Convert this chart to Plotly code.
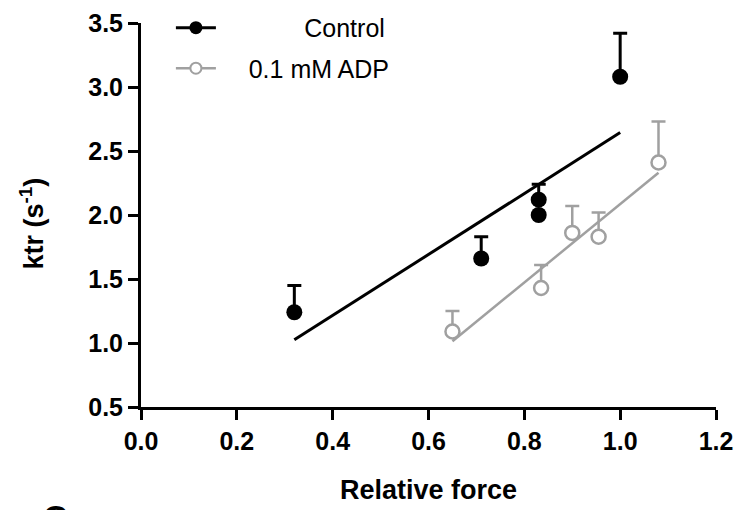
import plotly.graph_objects as go

# Control data
ctrl_x = [0.32, 0.71, 0.83, 0.83, 1.00]
ctrl_y = [1.24, 1.66, 2.12, 2.00, 3.08]
ctrl_err = [0.21, 0.17, 0.12, 0.0, 0.34]
ctrl_fit_x = [0.32, 1.00]
ctrl_fit_y = [1.025, 2.644]

# 0.1 mM ADP data
adp_x = [0.65, 0.835, 0.90, 0.955, 1.08]
adp_y = [1.09, 1.43, 1.86, 1.83, 2.41]
adp_err = [0.16, 0.18, 0.21, 0.19, 0.32]
adp_fit_x = [0.65, 1.08]
adp_fit_y = [1.014, 2.33]

x_ticks = [0.0, 0.2, 0.4, 0.6, 0.8, 1.0, 1.2]
y_ticks = [0.5, 1.0, 1.5, 2.0, 2.5, 3.0, 3.5]

BLACK = "#000000"
GRAY = "#a0a0a0"
FONT = "Liberation Sans, Arial, sans-serif"

fig = go.Figure()

# fit lines
fig.add_trace(go.Scatter(x=ctrl_fit_x, y=ctrl_fit_y, mode="lines",
                         line=dict(color=BLACK, width=3), showlegend=False, hoverinfo="skip"))
fig.add_trace(go.Scatter(x=adp_fit_x, y=adp_fit_y, mode="lines",
                         line=dict(color=GRAY, width=2.5), showlegend=False, hoverinfo="skip"))

# data points with upper error bars
fig.add_trace(go.Scatter(
    x=ctrl_x, y=ctrl_y, mode="markers",
    marker=dict(symbol="circle", size=16, color=BLACK),
    error_y=dict(type="data", symmetric=False, array=ctrl_err,
                 arrayminus=[0] * len(ctrl_err), color=BLACK, thickness=3, width=7),
    showlegend=False))
fig.add_trace(go.Scatter(
    x=adp_x, y=adp_y, mode="markers",
    marker=dict(symbol="circle", size=14, color="white", line=dict(color=GRAY, width=2.5)),
    error_y=dict(type="data", symmetric=False, array=adp_err,
                 arrayminus=[0] * len(adp_err), color=GRAY, thickness=2.5, width=7),
    showlegend=False))

# legend entries
fig.add_trace(go.Scatter(x=[None], y=[None], mode="lines+markers",
                         name="\u00a0" * 12 + "Control",
                         line=dict(color=BLACK, width=3),
                         marker=dict(symbol="circle", size=13, color=BLACK),
                         legendgroup="a"))
fig.add_trace(go.Scatter(x=[None], y=[None], mode="lines+markers",
                         name="\u00a0" * 4 + "0.1 mM ADP",
                         line=dict(color=GRAY, width=2.5),
                         marker=dict(symbol="circle", size=11, color="white",
                                     line=dict(color=GRAY, width=2)),
                         legendgroup="b"))

axis_common = dict(
    showline=True, linecolor=BLACK, linewidth=3,
    ticks="outside", ticklen=10, tickwidth=3, tickcolor=BLACK,
    showgrid=False, zeroline=False,
    tickfont=dict(family=FONT, size=25, color=BLACK, weight="bold"),
    title_font=dict(family=FONT, size=27, color=BLACK, weight="bold"),
)

fig.update_xaxes(range=[0, 1.2], tickvals=x_ticks,
                 ticktext=[f"{v:.1f}" for v in x_ticks],
                 title_text="Relative force", title_standoff=27, **axis_common)
fig.update_yaxes(range=[0.5, 3.5], tickvals=y_ticks,
                 ticktext=[f"{v:.1f}" for v in y_ticks], **axis_common)

# y-axis title
fig.add_annotation(text="ktr (s<sup>-1</sup>)", xref="paper", yref="paper",
                   x=-0.19, y=0.477, xanchor="center", yanchor="middle",
                   textangle=-90, showarrow=False,
                   font=dict(family=FONT, size=27, color=BLACK, weight="bold"))

# cropped panel letter of the next figure
fig.add_annotation(text="C", xref="paper", yref="paper", x=-0.148, y=-0.232,
                   xanchor="center", yanchor="top", showarrow=False,
                   font=dict(family=FONT, size=34, color=BLACK, weight="bold"))

fig.update_layout(
    width=740, height=510,
    margin=dict(l=141, r=24, t=23, b=103, autoexpand=False),
    plot_bgcolor="white", paper_bgcolor="white",
    font=dict(family=FONT, color=BLACK),
    legend=dict(x=0.052, y=1.047, xanchor="left", yanchor="top",
                font=dict(family=FONT, size=25, color=BLACK),
                bgcolor="rgba(0,0,0,0)", itemwidth=40,
                traceorder="grouped", tracegroupgap=5),
)

fig.write_html("out.html")
